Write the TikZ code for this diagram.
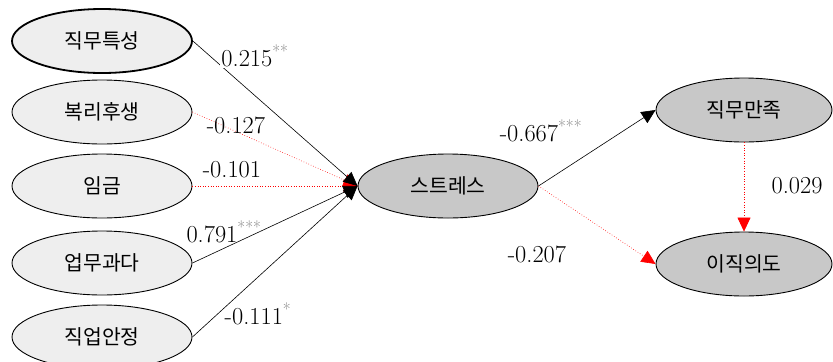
\documentclass[tikz,border=0pt]{standalone}
\usepackage{fontspec}
\newfontfamily\kr{Noto Sans CJK KR}
\usetikzlibrary{arrows.meta,shapes.geometric}
\definecolor{cin}{RGB}{238,238,238}
\definecolor{cout}{RGB}{200,200,200}
\definecolor{cns}{RGB}{255,0,0}
\newcommand{\sg}[1]{\textsuperscript{\textcolor{gray}{#1}}}

\begin{document}
\begin{tikzpicture}[x=1bp,y=-1bp,
   v/.style={ellipse,draw,line width=0.9bp,minimum width=180bp,minimum height=64bp,inner sep=0pt,
             font=\kr\fontsize{20.5}{20.5}\selectfont},
   sig/.style={draw=black,line width=0.6bp,-{Triangle[length=14bp,width=13bp]}},
   ns/.style={draw=cns,dotted,line width=0.6bp,-{Triangle[length=14bp,width=13bp,fill=cns]}},
   lab/.style={font=\fontsize{24.5}{24.5}\selectfont,inner sep=1bp}]
  \useasboundingbox (0,0) rectangle (833,361);
  % exogenous variables
  \node[v,fill=cin,line width=1.8bp] (job)  at (102,41)  {직무특성};
  \node[v,fill=cin] (welf) at (102,112) {복리후생};
  \node[v,fill=cin] (wage) at (102,186) {임금};
  \node[v,fill=cin] (load) at (102,263) {업무과다};
  \node[v,fill=cin] (sec)  at (102,337) {직업안정};
  % mediator and outcomes
  \node[v,fill=cout] (stress) at (448,186) {스트레스};
  \node[v,fill=cout,minimum width=176bp] (sat)  at (744,110) {직무만족};
  \node[v,fill=cout,minimum width=176bp] (turn) at (744,264) {이직의도};
  % --- paths to stress ---
  \draw[ns] (welf.east) -- (stress.west);
  \draw[ns] (wage.east) -- (stress.west);
  \draw[sig] (job.east) -- (stress.west);
  \draw[sig] (load.east) -- (stress.west);
  \draw[sig] (sec.east) -- (stress.west);
  \node[lab,fill=white] at (255,56) {0.215\sg{**}};
  \node[lab] at (236,125) {-0.127};
  \node[lab] at (232,170) {-0.101};
  \node[lab] at (224,232) {0.791\sg{***}};
  \node[lab] at (258,314) {-0.111\sg{*}};
  % --- paths from stress ---
  \draw[sig] (stress.east) -- (sat.west);
  \draw[ns] (stress.east) -- (turn.west);
  \draw[ns] (sat.south) -- (turn.north);
  \node[lab] at (541,131) {-0.667\sg{***}};
  \node[lab] at (537,254) {-0.207};
  \node[lab] at (797,186) {0.029};
\end{tikzpicture}
\end{document}
